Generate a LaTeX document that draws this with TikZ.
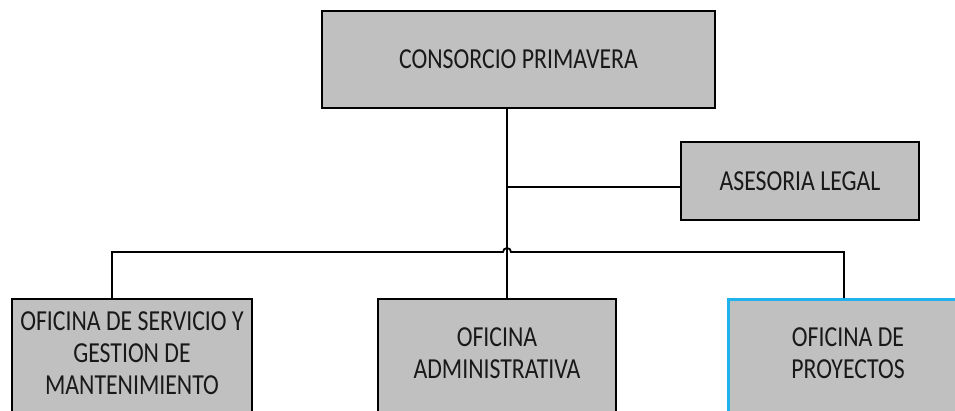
\documentclass[tikz,border=0pt]{standalone}
\usepackage{fontspec}
\setmainfont{Carlito}[FakeStretch=0.82]
\usetikzlibrary{calc}
\definecolor{boxgray}{HTML}{C0C0C0}
\definecolor{boxblue}{HTML}{1FB2EC}
\tikzset{
  orgbox/.style={draw=black, fill=boxgray, line width=1.9pt, inner sep=0pt},
  lbl/.style={align=center, font=\fontsize{29}{32}\selectfont, inner sep=0pt, text=black!90},
  conn/.style={draw=black, line width=1.8pt}
}
\begin{document}
\begin{tikzpicture}[x=1pt,y=-1pt]
\useasboundingbox (0,0) rectangle (955,410);
\clip (0,0) rectangle (955,410);
% boxes
\node[orgbox, minimum width=393pt, minimum height=97pt] (top) at (518.5,59.5) {};
\node[lbl] (toptxt) at (top.center) {CONSORCIO PRIMAVERA};
\node[orgbox, minimum width=238pt, minimum height=78pt] (legal) at (800,181) {};
\node[lbl] (legaltxt) at (legal.center) {ASESORIA LEGAL};
\node[orgbox, minimum width=240pt, minimum height=120pt, anchor=north] (svc) at (132,298) {};
\node[lbl] (svctxt) at (132,353) {OFICINA DE SERVICIO Y\\GESTION DE\\MANTENIMIENTO};
\node[orgbox, minimum width=238pt, minimum height=120pt, anchor=north] (adm) at (497,298) {};
\node[lbl] (admtxt) at (497,353) {OFICINA\\ADMINISTRATIVA};
\node[orgbox, draw=boxblue, line width=3pt, minimum width=239pt, minimum height=120pt, anchor=north] (proj) at (848,298) {};
\node[lbl] (projtxt) at (848,353) {OFICINA DE\\PROYECTOS};
% connectors
\coordinate (j) at (507,252);
\coordinate (jl) at (503,252);
\coordinate (jr) at (511,252);
\coordinate (lj) at (507,187);
\draw[conn] (top.south -| j) -- (adm.north -| j);
\draw[conn] (lj) -- (legal.west |- lj);
\draw[conn] (svc.north -| 112,0) -- (112,252) -- (jl) arc[start angle=180, end angle=360, radius=4] -- (844,252) -- (proj.north -| 844,0);
\end{tikzpicture}
\end{document}
